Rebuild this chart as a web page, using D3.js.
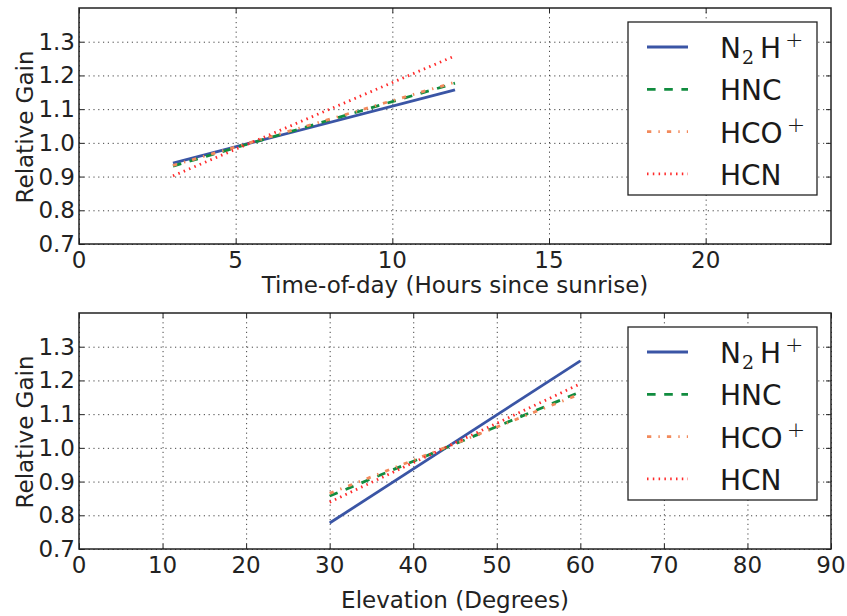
<!DOCTYPE html>
<html>
<head>
<meta charset="utf-8">
<script src="https://cdn.jsdelivr.net/npm/d3@7"></script>
<style>
  body { margin: 0; background: #fff; }
  svg { font-family: "DejaVu Sans", sans-serif; }
</style>
</head>
<body>
<div id="chart"></div>
<script>
// values
var seriesNames = ["N2H+", "HNC", "HCO+", "HCN"];

var timeHours = [3, 12];
var timeN2Hp = [0.940, 1.157];
var timeHNC  = [0.931, 1.177];
var timeHCOp = [0.933, 1.180];
var timeHCN  = [0.902, 1.258];

var elevDegrees = [30, 60];
var elevN2Hp = [0.777, 1.258];
var elevHNC  = [0.857, 1.166];
var elevHCOp = [0.865, 1.160];
var elevHCN  = [0.839, 1.190];

var gainTicks = [0.7, 0.8, 0.9, 1.0, 1.1, 1.2, 1.3];
var timeTicks = [0, 5, 10, 15, 20];
var elevTicks = [0, 10, 20, 30, 40, 50, 60, 70, 80, 90];

// line styles, in series order
var colors = ["#3a55a5", "#118c3f", "#f28a5c", "#ff2a2a"];
var dashes = [null, "8.6,8.6", "4.3,7.1,1.4,7.1", "1.5,4.3"];

var width = 847, height = 616;
var left = 79, right = 831, plotH = 236;

var svg = d3.select("#chart").append("svg")
    .attr("width", width)
    .attr("height", height);

function drawPanel(top, xDomain, xTicks, xLabel, labelGap, xData, ys) {
    var x = d3.scaleLinear().domain(xDomain).range([left, right]);
    var y = d3.scaleLinear().domain([0.7, 1.4]).range([top + plotH, top]);
    var g = svg.append("g");

    // dotted grid
    g.append("g")
        .attr("transform", "translate(0," + (top + plotH) + ")")
        .call(d3.axisBottom(x).tickValues(xTicks).tickSize(-plotH).tickFormat(""))
        .call(function(s) {
            s.select(".domain").remove();
            s.selectAll("line").attr("stroke", "#444").attr("stroke-width", 1)
                .attr("stroke-dasharray", "1.2,3.6");
        });
    g.append("g")
        .attr("transform", "translate(" + left + ",0)")
        .call(d3.axisLeft(y).tickValues(gainTicks).tickSize(-(right - left)).tickFormat(""))
        .call(function(s) {
            s.select(".domain").remove();
            s.selectAll("line").attr("stroke", "#444").attr("stroke-width", 1)
                .attr("stroke-dasharray", "1.2,3.6");
        });

    // series lines
    var line = d3.line()
        .x(function(d, i) { return x(xData[i]); })
        .y(function(d) { return y(d); });
    ys.forEach(function(vals, k) {
        g.append("path")
            .attr("d", line(vals))
            .attr("fill", "none")
            .attr("stroke", colors[k])
            .attr("stroke-width", 2.8)
            .attr("stroke-dasharray", dashes[k]);
    });

    // inward ticks on all sides
    var tickStyle = function(s) {
        s.select(".domain").remove();
        s.selectAll("line").attr("stroke", "#222").attr("stroke-width", 1);
        s.selectAll("text").remove();
    };
    g.append("g").attr("transform", "translate(0," + (top + plotH) + ")")
        .call(d3.axisBottom(x).tickValues(xTicks).tickSize(-5)).call(tickStyle);
    g.append("g").attr("transform", "translate(0," + top + ")")
        .call(d3.axisTop(x).tickValues(xTicks).tickSize(-5)).call(tickStyle);
    g.append("g").attr("transform", "translate(" + left + ",0)")
        .call(d3.axisLeft(y).tickValues(gainTicks).tickSize(-5)).call(tickStyle);
    g.append("g").attr("transform", "translate(" + right + ",0)")
        .call(d3.axisRight(y).tickValues(gainTicks).tickSize(-5)).call(tickStyle);

    // frame
    g.append("rect")
        .attr("x", left).attr("y", top)
        .attr("width", right - left).attr("height", plotH)
        .attr("fill", "none").attr("stroke", "#222").attr("stroke-width", 1.5);

    // tick labels
    g.selectAll(".xl").data(xTicks).enter().append("text")
        .attr("x", function(d) { return x(d); })
        .attr("y", top + plotH + 24)
        .attr("text-anchor", "middle")
        .attr("font-size", 23).attr("fill", "#222")
        .text(function(d) { return d; });
    g.selectAll(".yl").data(gainTicks).enter().append("text")
        .attr("x", left - 4)
        .attr("y", function(d) { return y(d) + 8; })
        .attr("text-anchor", "end")
        .attr("font-size", 23).attr("fill", "#222")
        .text(function(d) { return d.toFixed(1); });

    // axis labels
    g.append("text")
        .attr("x", (left + right) / 2)
        .attr("y", top + plotH + labelGap)
        .attr("text-anchor", "middle")
        .attr("font-size", 23).attr("fill", "#222")
        .text(xLabel);
    g.append("text")
        .attr("transform", "translate(33," + (top + plotH / 2 + 1) + ") rotate(-90)")
        .attr("text-anchor", "middle")
        .attr("font-size", 23).attr("fill", "#222")
        .text("Relative Gain");

    // legend
    var lx = 628, ly = top + 14, lw = 189, lh = 173;
    var leg = g.append("g");
    leg.append("rect")
        .attr("x", lx).attr("y", ly).attr("width", lw).attr("height", lh)
        .attr("fill", "#fff").attr("stroke", "#222").attr("stroke-width", 1.3);
    seriesNames.forEach(function(name, k) {
        var cy = ly + 25 + k * 42.3;
        leg.append("line")
            .attr("x1", lx + 19).attr("x2", lx + 60)
            .attr("y1", cy).attr("y2", cy)
            .attr("stroke", colors[k]).attr("stroke-width", 2.8)
            .attr("stroke-dasharray", dashes[k]);
        var t = leg.append("text")
            .attr("x", lx + 92).attr("y", cy + 11)
            .attr("font-size", 28).attr("fill", "#1a1a1a");
        if (name === "N2H+") {
            t.append("tspan").text("N");
            t.append("tspan").attr("font-family", "DejaVu Serif, serif")
                .attr("font-size", 19).attr("dy", 6).attr("dx", 1).text("2");
            t.append("tspan").attr("dy", -6).attr("dx", 6).text("H");
            t.append("tspan").attr("font-size", 22).attr("font-weight", 200)
                .attr("dy", -11).attr("dx", 4).text("+");
        } else if (name === "HCO+") {
            t.append("tspan").text("HCO");
            t.append("tspan").attr("font-size", 22).attr("font-weight", 200)
                .attr("dy", -11).attr("dx", 4).text("+");
        } else {
            t.text(name);
        }
    });
}

drawPanel(8, [0, 24], timeTicks, "Time-of-day (Hours since sunrise)", 49, timeHours,
    [timeN2Hp, timeHNC, timeHCOp, timeHCN]);
drawPanel(313, [0, 90], elevTicks, "Elevation (Degrees)", 59, elevDegrees,
    [elevN2Hp, elevHNC, elevHCOp, elevHCN]);
</script>
</body>
</html>
